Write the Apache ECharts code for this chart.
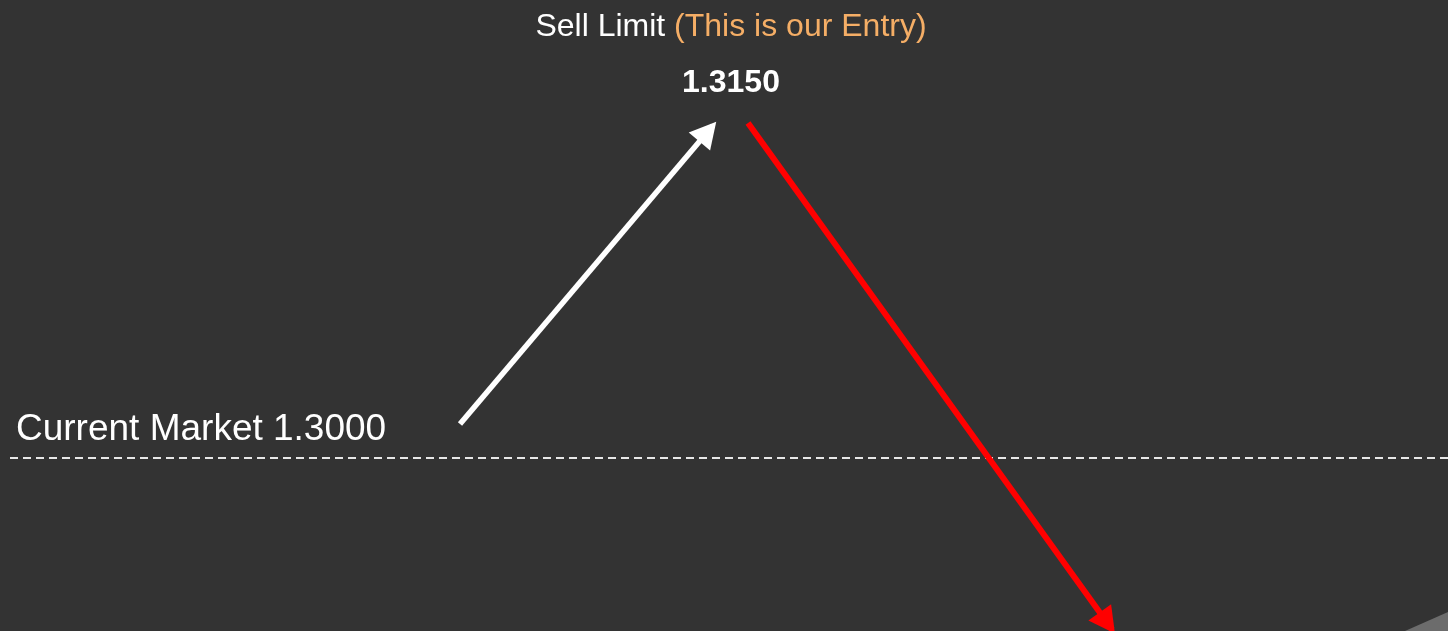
<!DOCTYPE html>
<html>
<head>
<meta charset="utf-8">
<script src="https://cdn.jsdelivr.net/npm/echarts@6/dist/echarts.min.js"></script>
<style>
  html, body { margin: 0; padding: 0; background: #333333; }
  #myEcharts { width: 1448px; height: 631px; }
</style>
</head>
<body>
<div id="myEcharts"></div>
<script>
// price levels
var currentPrice = 1.3000;
var entryPrice = 1.3150;
// x = time position, y = price
var priceRange = [1.29225, 1.32051];
var timeRange = [0, 1448];
var rallyPath = [[460, 1.30152], [713, 1.31489]];   // market rallies up to the sell limit
var dropPath = [[748, 1.3150], [1112, 1.29232]];    // then sells off, runs off the bottom
var entryPoint = [[731, entryPrice]];
var marketLineStart = 10;

var myChart = echarts.init(document.getElementById('myEcharts'));
var font = 'Liberation Sans, Arial, sans-serif';

// arrow head
var arrowHead = {
	symbol: 'triangle',
	symbolSize: [28, 26],
	symbolOffset: [0, 8]
};

var option = {
	backgroundColor: '#333333',
	animation: false,
	grid: { left: 0, right: 0, top: 0, bottom: 0 },
	xAxis: { type: 'value', min: timeRange[0], max: timeRange[1], show: false },
	yAxis: { type: 'value', min: priceRange[0], max: priceRange[1], show: false },
	series: [{
		type: 'scatter',
		data: entryPoint,
		symbolSize: 0,
		silent: true,
		itemStyle: { opacity: 1 },
		label: {
			show: true,
			position: 'top',
			distance: 12,
			fontFamily: font,
			formatter: function(p) {
				return '{a|Sell Limit }{b|(This is our Entry)}\n{c|' + p.value[1].toFixed(4) + '}';
			},
			rich: {
				a: { color: '#ffffff', fontSize: 32, lineHeight: 56, fontFamily: font },
				b: { color: '#f5ae66', fontSize: 32, lineHeight: 56, fontFamily: font },
				c: { color: '#ffffff', fontSize: 32, fontWeight: 'bold', lineHeight: 56, fontFamily: font }
			}
		}
	}, {
		type: 'line',
		data: [],
		markLine: {
			silent: true,
			animation: false,
			data: [
				[{
					coord: [marketLineStart, currentPrice],
					symbol: 'none',
					lineStyle: { color: '#e8e8e8', width: 2, type: [8, 5] },
					label: {
						show: true,
						position: 'insideStartTop',
						distance: [6, 10],
						color: '#ffffff',
						fontSize: 37,
						fontFamily: font,
						formatter: 'Current Market ' + currentPrice.toFixed(4)
					}
				}, { coord: [timeRange[1], currentPrice], symbol: 'none' }],
				[{
					coord: rallyPath[0],
					symbol: 'none',
					lineStyle: { color: '#ffffff', width: 5.5, type: 'solid' },
					label: { show: false }
				}, {
					coord: rallyPath[1],
					symbol: arrowHead.symbol,
					symbolSize: arrowHead.symbolSize,
					symbolOffset: arrowHead.symbolOffset
				}],
				[{
					coord: dropPath[0],
					symbol: 'none',
					lineStyle: { color: '#ff0000', width: 6, type: 'solid' },
					label: { show: false }
				}, {
					coord: dropPath[1],
					symbol: arrowHead.symbol,
					symbolSize: arrowHead.symbolSize,
					symbolOffset: arrowHead.symbolOffset
				}]
			]
		}
	}],
	graphic: [{
		type: 'polygon',
		silent: true,
		shape: { points: [[1405, 631], [1448, 612], [1448, 631]] },
		style: { fill: '#6c6c6c' }
	}]
};
myChart.setOption(option, true);
</script>
</body>
</html>
